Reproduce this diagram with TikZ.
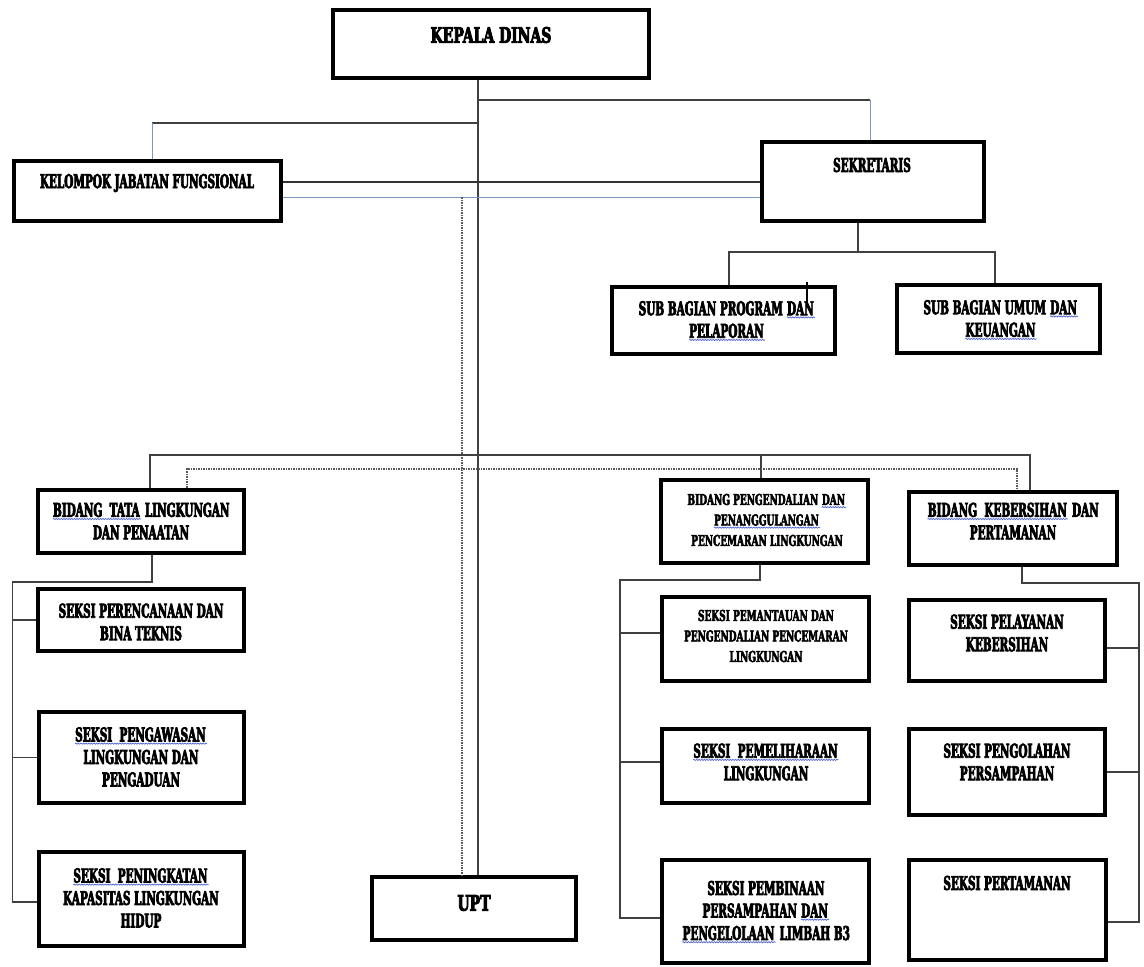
\documentclass[tikz,border=0pt]{standalone}
\usepackage{fontspec}
\usetikzlibrary{decorations.pathmorphing}
\newfontfamily\orgfont[FakeStretch=0.55,FakeBold=3.5]{DejaVu Serif}
\newfontfamily\orgsmall[FakeStretch=0.60,FakeBold=3]{DejaVu Serif}
\newfontfamily\orgbig[FakeStretch=0.655,FakeBold=4]{DejaVu Serif}
\definecolor{bluec}{RGB}{120,152,192}
\definecolor{squigc}{RGB}{80,100,210}
\tikzset{
  box/.style={draw=black, line width=4.5pt, inner sep=0pt, fill=white},
  big/.style={font=\orgbig\bfseries\fontsize{21.3}{25}\selectfont, align=center, inner sep=0pt},
  mid/.style={font=\orgfont\bfseries\fontsize{19}{22.5}\selectfont, align=center, inner sep=0pt},
  sml/.style={font=\orgsmall\bfseries\fontsize{15}{20.5}\selectfont, align=center, inner sep=0pt},
  conn/.style={draw=black!75, line width=1.1pt},
  bl/.style={draw=bluec, line width=1pt},
  dk/.style={draw=black!80, line width=1.5pt},
  dots/.style={draw=black!65, line width=1.2pt, dash pattern=on 1.6pt off 0.9pt},
  squig/.style={draw=squigc, line width=0.7pt, decorate, decoration={snake, amplitude=0.6pt, segment length=2.6pt}},
}
\newcommand\obox[5]{\node[box, minimum width={#4-#2-4}, minimum height={#5-#3-4}] (#1) at ({(#2+#4)/2},{(#3+#5)/2}) {};}
\newcommand\sq[1]{\tikz[baseline=(w.base)]{\node[inner sep=0pt] (w) {#1};
  \draw[squig] ([yshift=-2.2pt]w.base west) -- ([yshift=-2.2pt,xshift=1pt]w.base east);}}
\begin{document}
\begin{tikzpicture}[x=1pt,y=-1pt]
\useasboundingbox[fill=white] (0,0) rectangle (1144,967);
% junction coordinates
\coordinate (tx) at (478,0);
\coordinate (s1) at (478,100); \coordinate (s2) at (870,100);
\coordinate (k1) at (478,123); \coordinate (k2) at (152,123);
\coordinate (h1) at (0,182); \coordinate (h2) at (0,197);
\coordinate (dv) at (462,197);
\coordinate (sj) at (858,252); \coordinate (sa) at (729,252); \coordinate (sb) at (995,252);
\coordinate (tk) at (807,282);
\coordinate (b1) at (150,455); \coordinate (b2) at (1030,455); \coordinate (b3) at (761,455);
\coordinate (d1) at (187,469); \coordinate (d2) at (1017,469);
\coordinate (l0) at (152,582); \coordinate (lx) at (12.5,582);
\coordinate (m0) at (760,580); \coordinate (mx) at (620,580);
\coordinate (r0) at (1022,583); \coordinate (rx) at (1139,583);

% boxes
\obox{kd}{331}{8}{651}{80}
\obox{kjf}{12}{159}{283}{223}
\obox{sek}{760}{140}{986}{223}
\obox{sbp}{610}{285}{837}{356}
\obox{sbu}{895}{283}{1102}{355}
\obox{bt}{36}{488}{246}{555}
\obox{bp}{659}{478}{870}{565}
\obox{bk}{907}{490}{1119}{567}
\obox{spr}{36}{587}{246}{653}
\obox{spg}{37}{710}{246}{805}
\obox{spk}{37}{850}{246}{948}
\obox{upt}{370}{875}{578}{942}
\obox{spm}{660}{595}{871}{683}
\obox{spl}{660}{727}{871}{805}
\obox{spb}{660}{858}{871}{965}
\obox{spy}{907}{598}{1107}{683}
\obox{spo}{907}{727}{1107}{817}
\obox{spt}{907}{858}{1108}{962}

% connectors
\draw[conn] (tx |- kd.south) -- (tx |- upt.north);
\draw[conn] (s1) -- (s2);
\draw[bl] (s2) -- (s2 |- sek.north);
\draw[conn] (k1) -- (k2);
\draw[bl] (k2) -- (k2 |- kjf.north);
\draw[dk] (kjf.east |- h1) -- (sek.west |- h1);
\draw[bl] (kjf.east |- h2) -- (sek.west |- h2);
\draw[dots] (dv) -- (dv |- upt.north);
\draw[conn] (sj |- sek.south) -- (sj);
\draw[conn] (sa |- sbp.north) -- (sa) -- (sb) -- (sb |- sbu.north);
\draw[line width=2pt] (tk) -- ++(0,23);
\draw[conn] (b1 |- bt.north) -- (b1) -- (b2) -- (b2 |- bk.north);
\draw[conn] (b3) -- (b3 |- bp.north);
\draw[dots] (d1 |- bt.north) -- (d1) -- (d2) -- (d2 |- bk.north);
\draw[conn] (l0 |- bt.south) -- (l0) -- (lx) -- (lx |- 0,902) -- ([yshift=-3pt]spk.west);
\draw[conn] (lx |- spr.west) -- (spr.west);
\draw[conn] (lx |- spg.west) -- (spg.west);
\draw[conn] (m0 |- bp.south) -- (m0) -- (mx) -- (mx |- 0,918) -- ([yshift=-6.5pt]spb.west);
\draw[conn] (mx |- 0,633) -- ([yshift=6pt]spm.west);
\draw[conn] (mx |- 0,762) -- ([yshift=4pt]spl.west);
\draw[conn] (r0 |- bk.south) -- (r0) -- (rx) -- (rx |- 0,922) -- ([yshift=-12pt]spt.east);
\draw[conn] (rx |- 0,648) -- ([yshift=-7.5pt]spy.east);
\draw[conn] (rx |- spo.east) -- (spo.east);

% texts
\node[big] (kdt) at (491,35) {KEPALA DINAS};
\node[mid] (kjft) at (147,183) {KELOMPOK JABATAN FUNGSIONAL};
\node[mid] (sekt) at (872,165) {SEKRETARIS};
\node[mid] (sbpt) at (727,321) {SUB BAGIAN PROGRAM \sq{DAN}\\\sq{PELAPORAN}};
\node[mid] (sbut) at (1001,320) {SUB BAGIAN UMUM \sq{DAN}\\\sq{KEUANGAN}};
\node[mid] (btt) at (141,521) {\sq{BIDANG~~TATA} LINGKUNGAN\\DAN PENAATAN};
\node[sml] (bpt) at (767,520) {BIDANG PENGENDALIAN \sq{DAN}\\\sq{PENANGGULANGAN}\\PENCEMARAN LINGKUNGAN};
\node[mid] (bkt) at (1013,521) {\sq{BIDANG~~KEBERSIHAN} DAN\\PERTAMANAN};
\node[mid] (sprt) at (141,622) {SEKSI PERENCANAAN DAN\\BINA TEKNIS};
\node[mid] (spgt) at (141,757) {\sq{SEKSI~~PENGAWASAN}\\LINGKUNGAN DAN\\PENGADUAN};
\node[mid] (spkt) at (141,898) {\sq{SEKSI~~PENINGKATAN}\\KAPASITAS LINGKUNGAN\\HIDUP};
\node[big] (uptt) at (474,903) {UPT};
\node[sml] (spmt) at (766,636) {SEKSI PEMANTAUAN DAN\\PENGENDALIAN PENCEMARAN\\LINGKUNGAN};
\node[mid] (splt) at (766,762) {\sq{SEKSI~~PEMELIHARAAN}\\LINGKUNGAN};
\node[mid] (spbt) at (766,912) {SEKSI PEMBINAAN\\PERSAMPAHAN \sq{DAN}\\\sq{PENGELOLAAN} LIMBAH B3};
\node[mid] (spyt) at (1007,633) {SEKSI PELAYANAN\\KEBERSIHAN};
\node[mid] (spot) at (1007,762) {SEKSI PENGOLAHAN\\PERSAMPAHAN};
\node[mid] (sptt) at (1007,883) {SEKSI PERTAMANAN};
\end{tikzpicture}
\end{document}
